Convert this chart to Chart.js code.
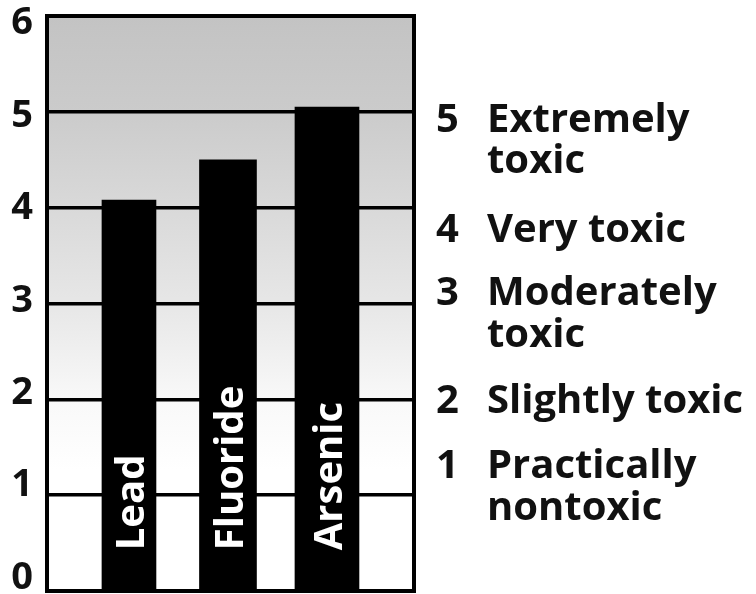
<!DOCTYPE html>
<html>
<head>
<meta charset="utf-8">
<script src="https://cdn.jsdelivr.net/npm/chart.js@4.4.1/dist/chart.umd.min.js"></script>
<style>
  html, body { margin: 0; padding: 0; background: #fff; }
  #chart { display: block; }
</style>
</head>
<body>
<canvas id="chart" width="756" height="594"></canvas>
<script>
// substances and their toxicity rating
const categories = ['Lead', 'Fluoride', 'Arsenic'];
const ratings = [4.08, 4.5, 5.05];

// the rating key printed to the right of the frame
const keyNumbers = ['5', '4', '3', '2', '1'];
const keyLabels = [
  ['Extremely', 'toxic'],
  ['Very toxic'],
  ['Moderately', 'toxic'],
  ['Slightly toxic'],
  ['Practically', 'nontoxic']
];

const FONT = '"Open Sans", "DejaVu Sans", sans-serif';
const barWidths = [54, 57, 64];
const keyBaselines = [[132, 173], [242], [305, 347], [413], [478, 520]];

// grey fade behind the bars, darkest at the top
const backgroundPlugin = {
  id: 'fade',
  beforeDraw(chart) {
    const { ctx, chartArea: a } = chart;
    const g = ctx.createLinearGradient(0, a.top, 0, a.bottom);
    g.addColorStop(0, '#c3c3c3');
    g.addColorStop(0.167, '#cbcbcb');
    g.addColorStop(0.334, '#d9d9d9');
    g.addColorStop(0.503, '#e7e7e7');
    g.addColorStop(0.663, '#f8f8f8');
    g.addColorStop(0.79, '#ffffff');
    g.addColorStop(1, '#ffffff');
    ctx.save();
    ctx.fillStyle = g;
    ctx.fillRect(a.left, a.top, a.right - a.left, a.bottom - a.top);
    ctx.restore();
  }
};

// black frame round the plot + names written up inside each bar
const framePlugin = {
  id: 'frame',
  afterDatasetsDraw(chart) {
    const { ctx, chartArea: a } = chart;
    ctx.save();
    ctx.strokeStyle = '#000';
    ctx.lineWidth = 4;
    ctx.strokeRect(a.left, a.top, a.right - a.left, a.bottom - a.top);

    ctx.fillStyle = '#fff';
    ctx.font = 'bold 40px ' + FONT;
    ctx.textAlign = 'left';
    ctx.textBaseline = 'alphabetic';
    chart.data.datasets.forEach((ds, i) => {
      const bar = chart.getDatasetMeta(i).data[0];
      ctx.save();
      ctx.translate(bar.x + 15, bar.base - 39);
      ctx.rotate(-Math.PI / 2);
      ctx.fillText(ds.label, 0, 0);
      ctx.restore();
    });
    ctx.restore();
  }
};

// the key on the right
const keyPlugin = {
  id: 'key',
  afterDraw(chart) {
    const { ctx } = chart;
    ctx.save();
    ctx.fillStyle = '#111';
    ctx.font = 'bold 40px ' + FONT;
    ctx.textBaseline = 'alphabetic';
    ctx.textAlign = 'left';
    keyNumbers.forEach((n, i) => {
      const ys = keyBaselines[i];
      ctx.fillText(n, 436, ys[0]);
      keyLabels[i].forEach((line, j) => {
        ctx.fillText(line, 487, ys[j]);
      });
    });
    ctx.restore();
  }
};

const datasets = categories.map((name, i) => ({
  label: name,
  data: [{ x: i + 1, y: ratings[i] }],
  backgroundColor: '#000',
  barThickness: barWidths[i],
  grouped: false
}));

new Chart(document.getElementById('chart'), {
  type: 'bar',
  data: { datasets },
  options: {
    responsive: false,
    animation: false,
    layout: { padding: { top: 16, right: 342, bottom: 3, left: 0 } },
    plugins: {
      legend: { display: false },
      tooltip: { enabled: false }
    },
    scales: {
      x: {
        type: 'linear',
        display: false,
        offset: false,
        min: 0.172,
        max: 3.879
      },
      y: {
        type: 'linear',
        position: 'left',
        min: 0,
        max: 6,
        ticks: { display: false, stepSize: 1 },
        grid: { color: '#000', lineWidth: 3.5, drawTicks: false },
        border: { display: false },
        afterFit(s) { s.width = 0; s.paddingTop = 0; s.paddingBottom = 0; }
      },
      // tick numbers sit a little off the grid lines in the original
      yLabels: {
        type: 'linear',
        position: 'left',
        min: -0.141,
        max: 6.081,
        grid: { display: false, drawTicks: false },
        border: { display: false },
        ticks: {
          stepSize: 1,
          includeBounds: false,
          padding: 14,
          color: '#111',
          font: { family: FONT, size: 38, weight: 'bold' }
        },
        afterBuildTicks(s) { s.ticks = s.ticks.filter(t => Number.isInteger(t.value)); },
        afterFit(s) { s.width = 47; s.paddingTop = 0; s.paddingBottom = 0; }
      }
    }
  },
  plugins: [backgroundPlugin, framePlugin, keyPlugin]
});
</script>
</body>
</html>
